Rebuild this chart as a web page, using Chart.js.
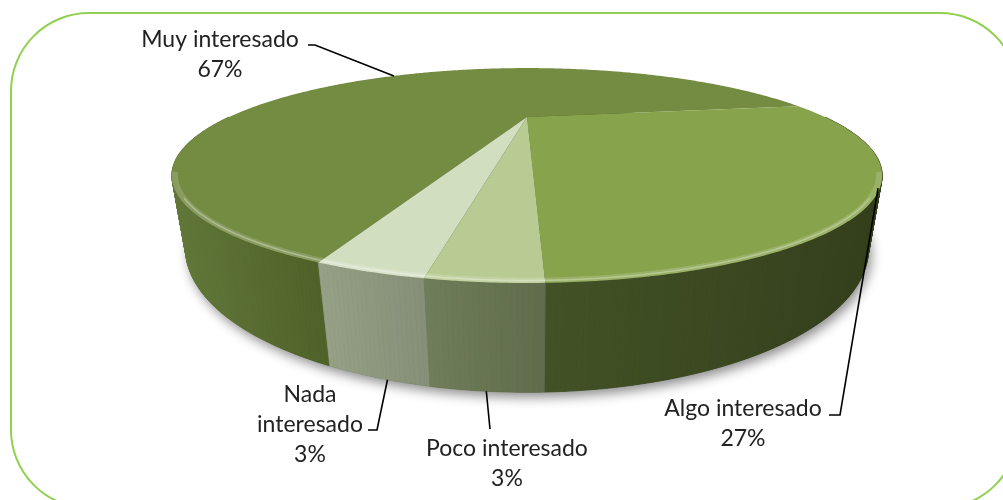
<!DOCTYPE html>
<html>
<head>
<meta charset="utf-8">
<script src="https://cdn.jsdelivr.net/npm/chart.js@4.4.0/dist/chart.umd.min.js"></script>
<style>
  html, body { margin: 0; padding: 0; background: #fff; }
  #wrap { width: 1003px; height: 500px; }
</style>
</head>
<body>
<div id="wrap"><canvas id="pieChart"></canvas></div>
<script>
const categories = ['Muy interesado', 'Algo interesado', 'Poco interesado', 'Nada interesado'];
const values = [67, 27, 3, 3];
const topColors = ['#748b42', '#87a34c', '#b8cb92', '#d2dec0'];
const sideColors = [
  ['#62783a', '#4f6229'],
  ['#435226', '#343f1c'],
  ['#707d5a', '#606c4b'],
  ['#95a086', '#868f77']
];

// camera used to project the flat pie into a tilted disc
const view = { ox: 527, oy: 117, f: 529, D: 1.776, elev: 14.7, depth: 0.2 };

// where labels sit and where their leader lines start
const labelBoxes = [
  { x: 220, y: 47, lines: ['Muy interesado'], leader: [[308, 45], [315, 45]], anchor: [0.5, 0] },
  { x: 743, y: 416, lines: ['Algo interesado'], leader: [[829, 415], [840, 415]], anchor: [0.4, 0.25] },
  { x: 507, y: 456, lines: ['Poco interesado'], leader: [[490, 429]], anchor: [0.5, 1] },
  { x: 310, y: 402, lines: ['Nada', 'interesado'], leader: [[368, 430], [377, 430]], anchor: [0.4, 1] }
];

function project(theta, level, r) {
  r = r === undefined ? 1 : r;
  const e = view.elev * Math.PI / 180;
  const c = Math.cos(e), s = Math.sin(e);
  const X = r * Math.cos(theta), Z = r * Math.sin(theta), Y = -view.depth * level;
  const d = view.D - (Y * s + Z * c);
  return { x: view.ox + view.f * X / d, y: view.oy - view.f * (Y * c - Z * s) / d };
}

function hexRgb(h) {
  return [1, 3, 5].map(i => parseInt(h.substr(i, 2), 16));
}
function mix(a, b, t) {
  const A = hexRgb(a), B = hexRgb(b);
  return 'rgb(' + A.map((v, i) => Math.round(v + (B[i] - v) * t)).join(',') + ')';
}

function rimPath(ctx, a0, a1, level, r) {
  const n = Math.max(2, Math.ceil(Math.abs(a1 - a0) / (Math.PI / 360)));
  for (let i = 0; i <= n; i++) {
    const p = project(a0 + (a1 - a0) * i / n, level, r);
    ctx.lineTo(p.x, p.y);
  }
}

const pie3d = {
  id: 'pie3d',
  beforeDatasetsDraw(chart) {
    const ctx = chart.ctx;
    const arcs = chart.getDatasetMeta(0).data;
    ctx.save();

    // soft shadow under the disc
    ctx.save();
    ctx.shadowColor = 'rgba(0,0,0,0.45)';
    ctx.shadowBlur = 12;
    ctx.shadowOffsetX = 3;
    ctx.shadowOffsetY = 5;
    ctx.beginPath();
    rimPath(ctx, 0, Math.PI * 2, 1);
    ctx.closePath();
    ctx.fillStyle = '#3c4a20';
    ctx.fill();
    ctx.restore();

    // side walls, back to front
    const quads = [];
    arcs.forEach((arc, i) => {
      const a0 = arc.startAngle, a1 = arc.endAngle;
      const n = Math.max(2, Math.ceil((a1 - a0) / (Math.PI / 360)));
      const list = [];
      for (let k = 0; k < n; k++) {
        const a = a0 + (a1 - a0) * k / n, b = a0 + (a1 - a0) * (k + 1) / n;
        const m = (a + b) / 2;
        if (Math.sin(m) <= 0) continue;
        const q = { i, a, b, sin: Math.sin(m), x: project(m, 0.5).x };
        list.push(q);
        quads.push(q);
      }
      const front = list.filter(q => q.sin > 0.58);
      const xs = front.map(q => q.x);
      const xmin = Math.min(...xs), xmax = Math.max(...xs);
      list.forEach(q => {
        const t = xmax > xmin ? Math.min(1, Math.max(0, (q.x - xmin) / (xmax - xmin))) : 0.5;
        q.color = mix(sideColors[i][0], sideColors[i][1], t);
      });
    });
    quads.sort((p, q) => p.sin - q.sin);
    quads.forEach(q => {
      const p1 = project(q.a, 0), p2 = project(q.b, 0), p3 = project(q.b, 1), p4 = project(q.a, 1);
      ctx.beginPath();
      ctx.moveTo(p1.x, p1.y);
      ctx.lineTo(p2.x, p2.y);
      ctx.lineTo(p3.x, p3.y);
      ctx.lineTo(p4.x, p4.y);
      ctx.closePath();
      ctx.fillStyle = q.color;
      ctx.strokeStyle = q.color;
      ctx.lineWidth = 0.8;
      ctx.fill();
      ctx.stroke();
    });

    // top face slices
    const apex = project(0, 0, 0);
    arcs.forEach((arc, i) => {
      ctx.beginPath();
      ctx.moveTo(apex.x, apex.y);
      rimPath(ctx, arc.startAngle, arc.endAngle, 0);
      ctx.closePath();
      ctx.fillStyle = topColors[i];
      ctx.fill();
    });

    // soft bevel highlight along the front rim
    ctx.save();
    ctx.beginPath();
    rimPath(ctx, 0, Math.PI * 2, 0);
    ctx.closePath();
    ctx.clip();
    ctx.beginPath();
    rimPath(ctx, 0.55, Math.PI - 0.55, 0, 0.995);
    ctx.strokeStyle = 'rgba(255,255,255,0.16)';
    ctx.lineWidth = 7;
    ctx.stroke();
    ctx.beginPath();
    rimPath(ctx, 0.75, Math.PI - 0.75, 0, 0.993);
    ctx.strokeStyle = 'rgba(255,255,255,0.3)';
    ctx.lineWidth = 1.5;
    ctx.stroke();
    ctx.restore();

    ctx.restore();
    return false;
  },
  afterDraw(chart) {
    const ctx = chart.ctx;
    const arcs = chart.getDatasetMeta(0).data;
    const total = values.reduce((a, b) => a + b, 0);
    ctx.save();

    // green frame
    ctx.beginPath();
    ctx.roundRect(11, 13, 1007, 495, 78);
    ctx.strokeStyle = '#92d050';
    ctx.lineWidth = 2;
    ctx.stroke();

    ctx.font = '23px Lato';
    ctx.fillStyle = '#222';
    ctx.textAlign = 'center';
    ctx.textBaseline = 'alphabetic';
    labelBoxes.forEach((lb, i) => {
      const lines = lb.lines.concat([Math.round(values[i] / total * 100) + '%']);
      lines.forEach((t, k) => ctx.fillText(t, lb.x, lb.y + k * 30));

      const arc = arcs[i];
      const ang = arc.startAngle + (arc.endAngle - arc.startAngle) * lb.anchor[0];
      const p = project(ang, lb.anchor[1]);
      ctx.beginPath();
      lb.leader.forEach((pt, k) => k ? ctx.lineTo(pt[0], pt[1]) : ctx.moveTo(pt[0], pt[1]));
      ctx.lineTo(p.x, p.y);
      ctx.strokeStyle = '#000';
      ctx.lineWidth = 1.6;
      ctx.stroke();
    });
    ctx.restore();
  }
};

new Chart(document.getElementById('pieChart'), {
  type: 'pie',
  data: {
    labels: categories,
    datasets: [{ data: values, backgroundColor: topColors, borderWidth: 0 }]
  },
  options: {
    responsive: true,
    maintainAspectRatio: false,
    animation: false,
    events: [],
    rotation: 200,
    plugins: { legend: { display: false }, tooltip: { enabled: false } }
  },
  plugins: [pie3d]
});
</script>
</body>
</html>
